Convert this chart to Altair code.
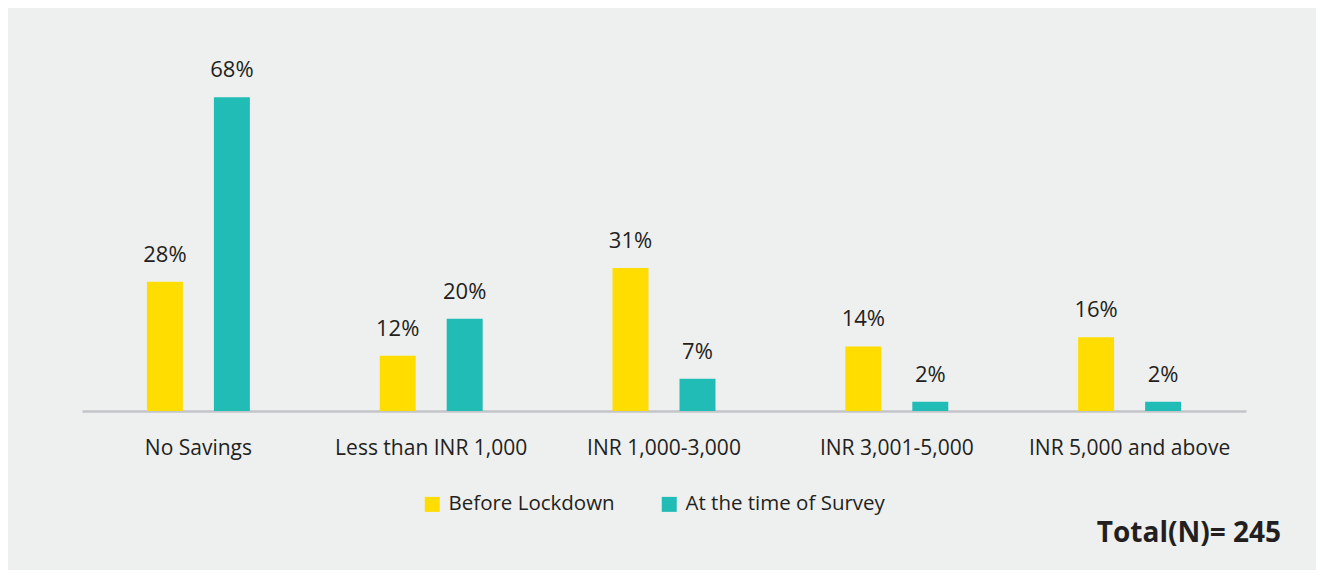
import altair as alt
import pandas as pd

categories = ["No Savings", "Less than INR 1,000", "INR 1,000-3,000", "INR 3,001-5,000", "INR 5,000 and above"]
series = ["Before Lockdown", "At the time of Survey"]
before_lockdown = [28, 12, 31, 14, 16]
at_survey = [68, 20, 7, 2, 2]
colors = ["#FFDD00", "#22BCB6"]
total_label = ["Total(N)= 245"]

rows = []
for c, b, s in zip(categories, before_lockdown, at_survey):
    rows.append({"category": c, "series": series[0], "value": b, "label": f"{b}%"})
    rows.append({"category": c, "series": series[1], "value": s, "label": f"{s}%"})
df = pd.DataFrame(rows)

FONT = "Open Sans"
TXT = "#231F20"

x_enc = alt.X("category:N", sort=categories,
              scale=alt.Scale(paddingInner=0, paddingOuter=0),
              axis=alt.Axis(title=None, labelAngle=0, ticks=False, domain=True,
                            domainColor="#C3C5C9", domainWidth=2.5,
                            labelFontSize=21, labelFont=FONT, labelColor=TXT,
                            labelPadding=26, labelLimit=1000))
xoff_enc = alt.XOffset("series:N", sort=series,
                       scale=alt.Scale(paddingInner=0.463, paddingOuter=0.969))
y_enc = alt.Y("value:Q", scale=alt.Scale(domain=[0, 70], nice=False), axis=None)

bars = alt.Chart(df).mark_bar().encode(
    x=x_enc,
    xOffset=xoff_enc,
    y=y_enc,
    color=alt.Color("series:N", sort=series,
                    scale=alt.Scale(domain=series, range=colors),
                    legend=alt.Legend(title=None, orient="none", direction="horizontal",
                                      legendX=340, legendY=406, symbolType="square",
                                      symbolSize=225, symbolStrokeWidth=0,
                                      labelFontSize=20.5, labelFont=FONT, labelColor=TXT,
                                      labelOffset=6, columnPadding=44, padding=0,
                                      labelLimit=1000)),
)

texts = alt.Chart(df).mark_text(dy=-20, baseline="alphabetic", fontSize=22,
                                font=FONT, color=TXT).encode(
    x=alt.X("category:N", sort=categories),
    xOffset=alt.XOffset("series:N", sort=series),
    y=alt.Y("value:Q"),
    text="label:N",
)

total = alt.Chart(pd.DataFrame({"t": total_label})).mark_text(
    align="right", baseline="alphabetic", fontSize=28, fontWeight="bold",
    font=FONT, color=TXT).encode(
    x=alt.value(1199), y=alt.value(454), text="t:N")

chart = alt.layer(bars, texts, total).properties(
    width=1164, height=323,
    autosize=alt.AutoSizeParams(type="none"),
    padding={"left": 74, "top": 80, "right": 70, "bottom": 159},
).configure(background="#EEF0EF").configure_view(stroke=None)

chart.save("out.html", embed_options={"renderer": "svg", "actions": False})
